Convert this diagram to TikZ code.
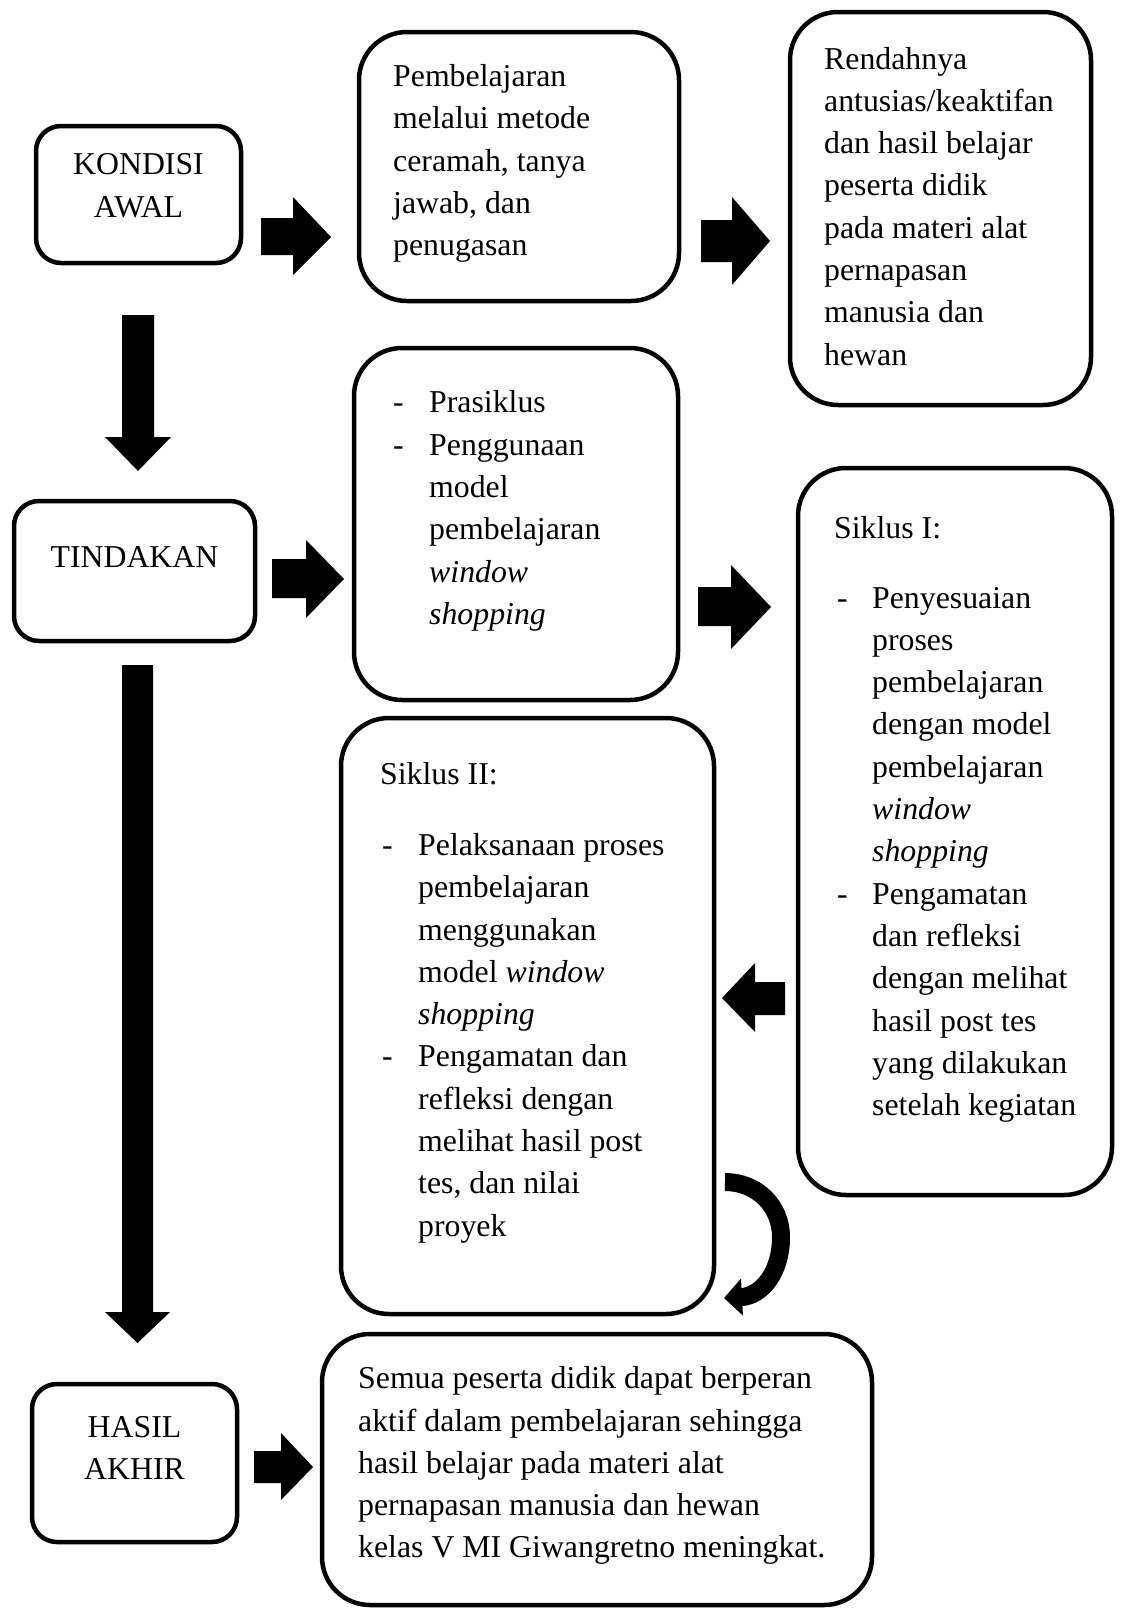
\documentclass[tikz,border=0pt]{standalone}
\usepackage{fontspec}
\setmainfont{Liberation Serif}
\usetikzlibrary{arrows.meta}
\begin{document}
\begin{tikzpicture}[x=1pt,y=-1pt,
  box/.style={draw, line width=4.5pt, inner sep=0pt, rounded corners=#1},
  txt/.style={anchor=north west, inner sep=0pt, align=left, font=\fontsize{31.8}{42.3}\selectfont},
  tab/.style={anchor=north west, inner sep=0pt, font=\fontsize{31.8}{42.3}\selectfont},
  ctxt/.style={anchor=north, inner sep=0pt, align=center, font=\fontsize{31.8}{42.3}\selectfont},
  blk/.style={fill=black}]
\useasboundingbox (0,0) rectangle (1121,1609);

% boxes
\node[box=25pt, minimum width=205pt, minimum height=137pt] (b1) at (138.5,194.5) {};
\node[box=48pt, minimum width=320pt, minimum height=269pt] (b2) at (519,166.5) {};
\node[box=48pt, minimum width=301pt, minimum height=393pt] (b3) at (940.5,208.5) {};
\node[box=25pt, minimum width=241pt, minimum height=140pt] (b4) at (134.5,571) {};
\node[box=48pt, minimum width=324pt, minimum height=352pt] (b5) at (516,524) {};
\node[box=48pt, minimum width=314pt, minimum height=727pt] (b6) at (955,831.5) {};
\node[box=48pt, minimum width=373pt, minimum height=596pt] (b7) at (527.5,1016) {};
\node[box=25pt, minimum width=205pt, minimum height=158pt] (b8) at (134.5,1463) {};
\node[box=48pt, minimum width=550pt, minimum height=271pt] (b9) at (597,1469.5) {};

% texts
\node[ctxt] (t1) at (138.5,144.9) {\strut KONDISI\\AWAL};
\node[txt] (t2) at (393,56.6) {\strut Pembelajaran\\melalui metode\\ceramah, tanya\\jawab, dan\\penugasan};
\node[txt] (t3) at (824,39.2) {\strut Rendahnya\\antusias/keaktifan\\dan hasil belajar\\peserta didik\\pada materi alat\\pernapasan\\manusia dan\\hewan};
\node[ctxt] (t4) at (134.5,537.4) {\strut TINDAKAN};
\node[tab] (t5) at (393,383.1) {\begin{tabular}{@{}p{36pt}@{}l@{}}
-&Prasiklus\\
-&Penggunaan\\
&model\\
&pembelajaran\\
&\textit{window}\\
&\textit{shopping}
\end{tabular}};
\node[tab] (t6) at (834,508.4) {\begin{tabular}{@{}p{38pt}@{}l@{}}
\multicolumn{2}{@{}l@{}}{Siklus I:}\\[27.5pt]
\hspace*{3pt}-&Penyesuaian\\
&proses\\
&pembelajaran\\
&dengan model\\
&pembelajaran\\
&\textit{window}\\
&\textit{shopping}\\
\hspace*{3pt}-&Pengamatan\\
&dan refleksi\\
&dengan melihat\\
&hasil post tes\\
&yang dilakukan\\
&setelah kegiatan
\end{tabular}};
\node[tab] (t7) at (380,754.7) {\begin{tabular}{@{}p{38pt}@{}l@{}}
\multicolumn{2}{@{}l@{}}{Siklus II:}\\[28.6pt]
\hspace*{2pt}-&Pelaksanaan proses\\
&pembelajaran\\
&menggunakan\\
&model \textit{window}\\
&\textit{shopping}\\
\hspace*{2pt}-&Pengamatan dan\\
&refleksi dengan\\
&melihat hasil post\\
&tes, dan nilai\\
&proyek
\end{tabular}};
\node[ctxt] (t8) at (134.5,1407.4) {\strut HASIL\\AKHIR};
\node[txt] (t9) at (358,1358.9) {\strut Semua peserta didik dapat berperan\\aktif dalam pembelajaran sehingga\\hasil belajar pada materi alat\\pernapasan manusia dan hewan\\kelas V MI Giwangretno meningkat.};

% block arrows
\fill[blk] (261,218) -- (293,218) -- (293,197) -- (331,237) -- (293,275) -- (293,255) -- (261,255) -- cycle;
\fill[blk] (701,220) -- (732,220) -- (732,197) -- (770,241) -- (732,285) -- (732,262) -- (701,262) -- cycle;
\fill[blk] (122,315) -- (154,315) -- (154,437) -- (171,437) -- (138,471) -- (105,437) -- (122,437) -- cycle;
\fill[blk] (272,559) -- (306,559) -- (306,540) -- (344,579) -- (306,618) -- (306,598) -- (272,598) -- cycle;
\fill[blk] (698,587) -- (731,587) -- (731,565) -- (771,607) -- (731,649) -- (731,626) -- (698,626) -- cycle;
\fill[blk] (785,982) -- (755,982) -- (755,963) -- (722,998) -- (755,1032) -- (755,1015) -- (785,1015) -- cycle;
\fill[blk] (122,665) -- (153,665) -- (153,1312) -- (170,1312) -- (137.5,1343) -- (105,1312) -- (122,1312) -- cycle;
\fill[blk] (254,1451) -- (281,1451) -- (281,1433) -- (313,1467) -- (281,1500) -- (281,1483) -- (254,1483) -- cycle;

% curved arrow
\coordinate (c0) at (725,1182);
\coordinate (c1) at (781,1237);
\coordinate (c2) at (724,1298);
\draw[line width=18pt, -{Triangle[length=18pt,width=36pt]}] (c0) .. controls (757,1182) and (781,1206) .. (c1)
  .. controls (781,1272) and (762,1296) .. (c2);
\end{tikzpicture}
\end{document}
